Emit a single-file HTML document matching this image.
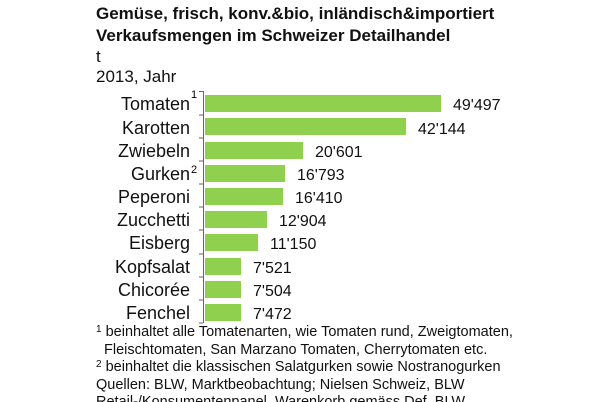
<!DOCTYPE html>
<html><head><meta charset="utf-8"><style>
body{margin:0;background:#fff;width:606px;height:402px;overflow:hidden;font-family:"Liberation Sans",sans-serif;color:#111}
.t{position:absolute;white-space:nowrap}
</style></head><body>
<div class="t" style="left:96px;top:4px;font-size:17px;font-weight:bold">Gemüse, frisch, konv.&amp;bio, inländisch&amp;importiert</div>
<div class="t" style="left:96px;top:26px;font-size:17px;font-weight:bold">Verkaufsmengen im Schweizer Detailhandel</div>
<div class="t" style="left:96px;top:47px;font-size:17px">t</div>
<div class="t" style="left:96px;top:67px;font-size:17px">2013, Jahr</div>
<svg width="606" height="402" style="position:absolute;left:0;top:0" font-family="Liberation Sans, sans-serif">
<line x1="203.5" y1="91" x2="203.5" y2="323" stroke="#666" stroke-width="1"/>
<g stroke="#666"><line x1="199" y1="91.5" x2="203" y2="91.5"/><line x1="199" y1="115" x2="203" y2="115"/><line x1="199" y1="138" x2="203" y2="138"/><line x1="199" y1="161" x2="203" y2="161"/><line x1="199" y1="184" x2="203" y2="184"/><line x1="199" y1="207" x2="203" y2="207"/><line x1="199" y1="230" x2="203" y2="230"/><line x1="199" y1="254" x2="203" y2="254"/><line x1="199" y1="277" x2="203" y2="277"/><line x1="199" y1="300" x2="203" y2="300"/><line x1="199" y1="323" x2="203" y2="323"/></g>
<g fill="#8fd14f">
<rect x="205" y="95" width="236" height="17"/>
<rect x="205" y="118" width="201" height="17"/>
<rect x="205" y="142" width="98" height="17"/>
<rect x="205" y="165" width="80" height="17"/>
<rect x="205" y="188" width="78" height="17"/>
<rect x="205" y="211" width="62" height="17"/>
<rect x="205" y="234" width="53" height="17"/>
<rect x="205" y="258" width="36" height="17"/>
<rect x="205" y="281" width="36" height="17"/>
<rect x="205" y="304" width="36" height="17"/>
</g>
<g font-size="18" text-anchor="end" fill="#111">
<text x="190" y="110">Tomaten</text><text x="190" y="134">Karotten</text><text x="190" y="157">Zwiebeln</text><text x="190" y="180">Gurken</text><text x="190" y="203">Peperoni</text><text x="190" y="226">Zucchetti</text><text x="190" y="249">Eisberg</text><text x="190" y="273">Kopfsalat</text><text x="190" y="296">Chicorée</text><text x="190" y="319">Fenchel</text>
</g>
<text x="191" y="98" font-size="11">1</text><text x="191" y="173" font-size="11">2</text>
<g font-size="16" fill="#111">
<text x="453" y="110">49'497</text><text x="418" y="134">42'144</text><text x="315" y="157">20'601</text><text x="297" y="180">16'793</text><text x="295" y="203">16'410</text><text x="279" y="226">12'904</text><text x="270" y="249">11'150</text><text x="253" y="273">7'521</text><text x="253" y="296">7'504</text><text x="253" y="319">7'472</text>
</g>
<g font-size="14.5" fill="#111">
<text x="96" y="336"><tspan font-size="10" dy="-4">1</tspan><tspan dy="4"> beinhaltet alle Tomatenarten, wie Tomaten rund, Zweigtomaten,</tspan></text>
<text x="104" y="354">Fleischtomaten, San Marzano Tomaten, Cherrytomaten etc.</text>
<text x="96" y="371"><tspan font-size="10" dy="-4">2</tspan><tspan dy="4"> beinhaltet die klassischen Salatgurken sowie Nostranogurken</tspan></text>
<text x="96" y="389">Quellen: BLW, Marktbeobachtung; Nielsen Schweiz, BLW</text>
<text x="96" y="406">Retail-/Konsumentenpanel, Warenkorb gemäss Def. BLW</text>
</g>
</svg>
</body></html>
